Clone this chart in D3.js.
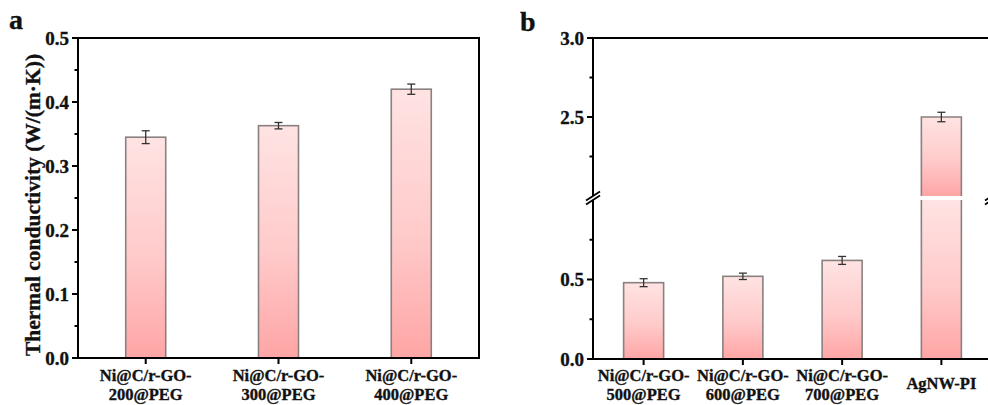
<!DOCTYPE html>
<html>
<head>
<meta charset="utf-8">
<script src="https://cdn.jsdelivr.net/npm/d3@7/dist/d3.min.js"></script>
<style>
  html, body { margin: 0; padding: 0; background: #fff; }
  svg { display: block; font-family: "Liberation Serif", "Times New Roman", serif; font-weight: bold; }
  text { stroke: #111; stroke-width: 0.35px; }
</style>
</head>
<body>
<svg id="chart" width="988" height="405"></svg>
<script>
// Panel a: Ni@C/r-GO-x@PEG composites
const labelsA = [["Ni@C/r-GO-", "200@PEG"], ["Ni@C/r-GO-", "300@PEG"], ["Ni@C/r-GO-", "400@PEG"]];
const valuesA = [0.345, 0.363, 0.420];
const errorsA = [0.010, 0.005, 0.008];
const ticksA = [0, 0.1, 0.2, 0.3, 0.4, 0.5];
const minorTicksA = [0.05, 0.15, 0.25, 0.35, 0.45];

// Panel b: higher-temperature composites vs AgNW-PI (broken y axis)
const labelsB = [["Ni@C/r-GO-", "500@PEG"], ["Ni@C/r-GO-", "600@PEG"], ["Ni@C/r-GO-", "700@PEG"], ["AgNW-PI"]];
const valuesB = [0.48, 0.52, 0.62, 2.50];
const errorsB = [0.025, 0.020, 0.025, 0.030];
const ticksBLow = [0, 0.5];
const minorBLow = [0.25, 0.75];
const ticksBHigh = [2.5, 3.0];
const minorBHigh = [2.25, 2.75];
const breakLow = 1.0, breakHigh = 2.0;

const yTitle = "Thermal conductivity (W/(m\u00B7K))";

const svg = d3.select("#chart");
const defs = svg.append("defs");
const grad = defs.append("linearGradient")
  .attr("id", "barFill").attr("x1", 0).attr("y1", 0).attr("x2", 0).attr("y2", 1);
grad.append("stop").attr("offset", "0%").attr("stop-color", "#ffe3e3");
grad.append("stop").attr("offset", "55%").attr("stop-color", "#ffcaca");
grad.append("stop").attr("offset", "100%").attr("stop-color", "#ffa5a5");

const fmt = d3.format(".1f");
const barW = 40;
const axisW = 2;
const barStroke = "#8a8080";

function drawErr(g, x, y, e) {
  const c = 4;
  g.append("line").attr("x1", x).attr("x2", x).attr("y1", y(e[0])).attr("y2", y(e[1]))
    .attr("stroke", "#333").attr("stroke-width", 1.3);
  [e[0], e[1]].forEach(v => {
    g.append("line").attr("x1", x - c).attr("x2", x + c).attr("y1", y(v)).attr("y2", y(v))
      .attr("stroke", "#333").attr("stroke-width", 1.3);
  });
}

function drawCatLabels(g, x, labels, ids) {
  ids.forEach((i, k) => {
    const lines = labels[k];
    const t = g.append("text").attr("x", x(i)).attr("text-anchor", "middle")
      .attr("font-size", 16.5).attr("fill", "#111");
    if (lines.length === 2) {
      t.append("tspan").attr("x", x(i)).attr("y", 381).text(lines[0]);
      t.append("tspan").attr("x", x(i)).attr("y", 400).text(lines[1]);
    } else {
      t.append("tspan").attr("x", x(i)).attr("y", 389).text(lines[0]);
    }
  });
}

function yTicks(g, x0, y, major, minor) {
  major.forEach(v => {
    g.append("line").attr("x1", x0 - 6).attr("x2", x0).attr("y1", y(v)).attr("y2", y(v))
      .attr("stroke", "#000").attr("stroke-width", axisW);
    g.append("text").attr("x", x0 - 9).attr("y", y(v)).attr("dy", "0.36em")
      .attr("text-anchor", "end").attr("font-size", 19).attr("fill", "#111").text(fmt(v));
  });
  minor.forEach(v => {
    g.append("line").attr("x1", x0 - 3.5).attr("x2", x0).attr("y1", y(v)).attr("y2", y(v))
      .attr("stroke", "#000").attr("stroke-width", axisW);
  });
}

// ---------- panel a ----------
{
  const L = 78, R = 479, T = 38, B = 358;
  const ids = valuesA.map((d, i) => i);
  const x = d3.scalePoint().domain(ids).range([L, R]).padding(0.51);
  const y = d3.scaleLinear().domain([0, 0.5]).range([B, T]);
  const g = svg.append("g");

  ids.forEach(i => {
    g.append("rect").attr("x", x(i) - barW / 2).attr("y", y(valuesA[i]))
      .attr("width", barW).attr("height", y(0) - y(valuesA[i]))
      .attr("fill", "url(#barFill)").attr("stroke", barStroke).attr("stroke-width", 1.6);
    drawErr(g, x(i), y, [valuesA[i] - errorsA[i], valuesA[i] + errorsA[i]]);
  });

  g.append("rect").attr("x", L).attr("y", T).attr("width", R - L).attr("height", B - T)
    .attr("fill", "none").attr("stroke", "#000").attr("stroke-width", axisW);

  yTicks(g, L, y, ticksA, minorTicksA);
  ids.forEach(i => {
    g.append("line").attr("x1", x(i)).attr("x2", x(i)).attr("y1", B).attr("y2", B + 6)
      .attr("stroke", "#000").attr("stroke-width", axisW);
  });
  drawCatLabels(g, x, labelsA, ids);

  g.append("text").attr("transform", `translate(${32},${205}) rotate(-90)`)
    .attr("text-anchor", "middle").attr("dy", "0.35em").attr("font-size", 21.5)
    .attr("fill", "#111").text(yTitle);

  svg.append("text").attr("x", 9).attr("y", 29).attr("font-size", 28).attr("fill", "#111").text("a");
}

// ---------- panel b ----------
{
  const L = 593, R = 992, T = 38, B = 359;
  const gapTop = 196, gapBot = 200;
  const ids = valuesB.map((d, i) => i);
  const x = d3.scalePoint().domain(ids).range([L, R]).padding(0.51);
  const yLow = d3.scaleLinear().domain([0, breakLow]).range([B, gapBot]);
  const yHigh = d3.scaleLinear().domain([breakHigh, 3.0]).range([gapTop, T]);
  const y = v => (v <= breakLow ? yLow(v) : yHigh(v));
  const g = svg.append("g");

  ids.forEach(i => {
    const v = valuesB[i], x0 = x(i) - barW / 2;
    if (v <= breakLow) {
      g.append("rect").attr("x", x0).attr("y", yLow(v)).attr("width", barW)
        .attr("height", yLow(0) - yLow(v))
        .attr("fill", "url(#barFill)").attr("stroke", barStroke).attr("stroke-width", 1.6);
    } else {
      g.append("rect").attr("x", x0).attr("y", yLow(breakLow)).attr("width", barW)
        .attr("height", yLow(0) - yLow(breakLow)).attr("fill", "url(#barFill)");
      g.append("rect").attr("x", x0).attr("y", yHigh(v)).attr("width", barW)
        .attr("height", yHigh(breakHigh) - yHigh(v)).attr("fill", "url(#barFill)");
      g.append("path")
        .attr("d", `M${x0},${yLow(0)}V${yHigh(v)}H${x0 + barW}V${yLow(0)}`)
        .attr("fill", "none").attr("stroke", barStroke).attr("stroke-width", 1.6);
      g.append("rect").attr("x", x0 - 2).attr("y", gapTop).attr("width", barW + 4)
        .attr("height", gapBot - gapTop).attr("fill", "#fff");
    }
    drawErr(g, x(i), y, [v - errorsB[i], v + errorsB[i]]);
  });

  // frame: bottom and top lines, side axes split at the break
  g.append("line").attr("x1", L - 1).attr("x2", R + 1).attr("y1", B).attr("y2", B)
    .attr("stroke", "#000").attr("stroke-width", axisW);
  g.append("line").attr("x1", L - 1).attr("x2", R + 1).attr("y1", T).attr("y2", T)
    .attr("stroke", "#000").attr("stroke-width", axisW);
  [L, R].forEach(xa => {
    g.append("line").attr("x1", xa).attr("x2", xa).attr("y1", B).attr("y2", gapBot)
      .attr("stroke", "#000").attr("stroke-width", axisW);
    g.append("line").attr("x1", xa).attr("x2", xa).attr("y1", gapTop).attr("y2", T)
      .attr("stroke", "#000").attr("stroke-width", axisW);
    [gapBot, gapTop].forEach(yy => {
      g.append("line").attr("x1", xa - 7).attr("x2", xa + 7).attr("y1", yy + 4.5).attr("y2", yy - 4.5)
        .attr("stroke", "#000").attr("stroke-width", 1.8);
    });
  });

  yTicks(g, L, yLow, ticksBLow, minorBLow);
  yTicks(g, L, yHigh, ticksBHigh, minorBHigh);
  ids.forEach(i => {
    g.append("line").attr("x1", x(i)).attr("x2", x(i)).attr("y1", B).attr("y2", B + 6)
      .attr("stroke", "#000").attr("stroke-width", axisW);
  });
  drawCatLabels(g, x, labelsB, ids);

  svg.append("text").attr("x", 520).attr("y", 31).attr("font-size", 28).attr("fill", "#111").text("b");
}
</script>
</body>
</html>
